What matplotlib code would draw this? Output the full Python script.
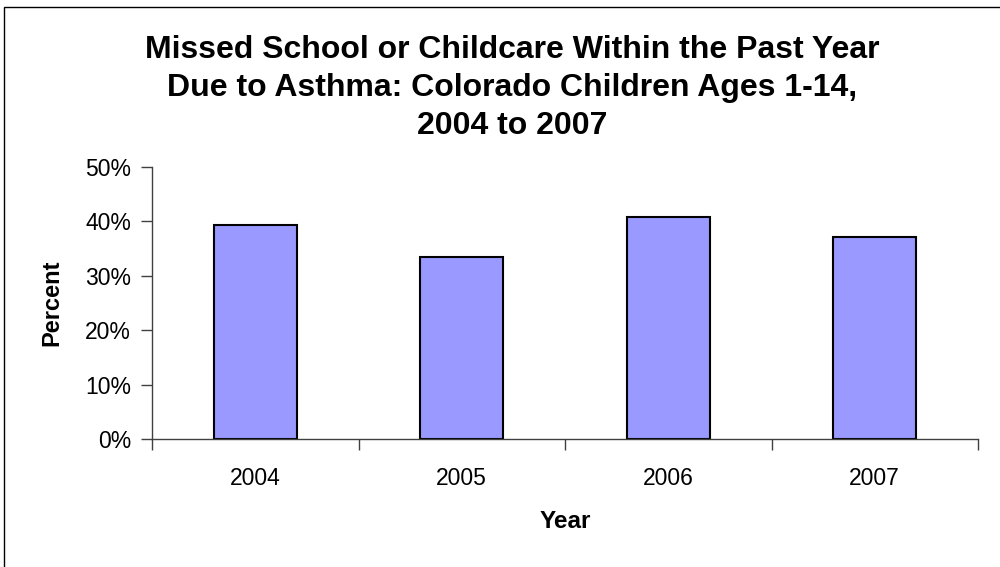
import matplotlib.pyplot as plt
from matplotlib.patches import Rectangle
from matplotlib.ticker import FixedLocator

plt.rcParams['font.family'] = ['Liberation Sans', 'DejaVu Sans']

# percent of children who missed school/childcare due to asthma
years = ['2004', '2005', '2006', '2007']
percent = [39.3, 33.4, 40.8, 37.1]

fig = plt.figure(figsize=(10, 5.67), dpi=100)
ax = fig.add_axes([0.152, 0.2257, 0.826, 0.4798])

# outer chart frame
fig.patches.append(Rectangle((0.004, -0.1), 1.2, 1.088, transform=fig.transFigure,
                             fill=False, edgecolor='black', linewidth=1.0))

x = range(len(years))
ax.bar(x, percent, width=0.4, color='#9999FF', edgecolor='black', linewidth=1.5)

ax.set_xlim(-0.5, len(years) - 0.5)
ax.set_ylim(0, 50)
ax.set_yticks(range(0, 51, 10))
ax.set_yticklabels([f'{v}%' for v in range(0, 51, 10)])
ax.set_xticks(list(x))
ax.set_xticklabels(years)
ax.tick_params(axis='x', length=0, labelsize=16.5, pad=20)
ax.tick_params(axis='y', length=8, width=1, labelsize=16.5, color='#404040', pad=7)
ax.xaxis.set_minor_locator(FixedLocator([-0.5, 0.5, 1.5, 2.5, 3.5]))
ax.tick_params(axis='x', which='minor', length=8, width=1, color='#404040')

for side in ['top', 'right']:
    ax.spines[side].set_visible(False)
for side in ['left', 'bottom']:
    ax.spines[side].set_color('#404040')
    ax.spines[side].set_linewidth(1)

ax.set_ylabel('Percent', fontsize=17, fontweight='bold', va='center')
ax.yaxis.set_label_coords(-0.121, 0.5)
ax.set_xlabel('Year', fontsize=17.5, fontweight='bold', va='center')
ax.xaxis.set_label_coords(0.5, -0.3015)

fig.text(0.512, 0.845, 'Missed School or Childcare Within the Past Year\n'
         'Due to Asthma: Colorado Children Ages 1-14,\n2004 to 2007',
         ha='center', va='center', fontsize=23, fontweight='bold', linespacing=1.35)

fig.savefig('out.png', dpi=100)
